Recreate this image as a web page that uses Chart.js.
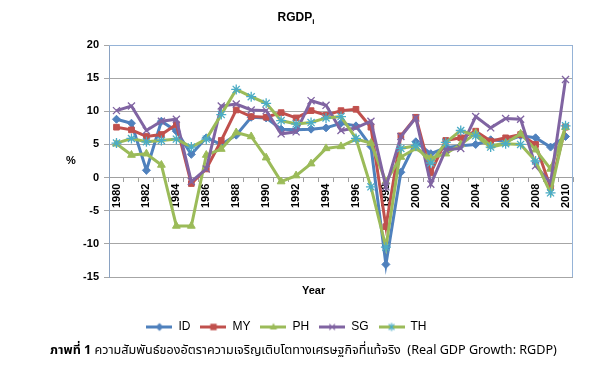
<!DOCTYPE html>
<html>
<head>
<meta charset="utf-8">
<script src="https://cdn.jsdelivr.net/npm/chart.js@4.4.0/dist/chart.umd.min.js"></script>
<style>
html,body{margin:0;padding:0;background:#fff;}
#wrap{position:relative;width:605px;height:381px;overflow:hidden;background:#fff;}
#c{position:absolute;left:0;top:0;}
.t{position:absolute;font-family:"Liberation Sans",Arial,sans-serif;font-weight:bold;color:#000;white-space:nowrap;line-height:1;}
#title{left:0;width:592px;text-align:center;top:11px;font-size:12px;}
#title sub{font-size:8px;vertical-align:-3px;}
#pct{left:66px;top:155px;font-size:11px;}
#year{left:302px;top:285px;font-size:11px;}
#cap{left:50px;top:345px;font-size:12.6px;font-weight:normal;font-family:"Noto Sans Thai","Loma","Garuda","Norasi","Noto Sans","DejaVu Sans",sans-serif;}
#cap b{font-weight:bold;}
</style>
</head>
<body>
<div id="wrap">
<canvas id="c" width="605" height="381"></canvas>
<div class="t" id="title">RGDP<sub>i</sub></div>
<div class="t" id="pct">%</div>
<div class="t" id="year">Year</div>
<div class="t" id="cap"><b>ภาพที่ 1</b> ความสัมพันธ์ของอัตราความเจริญเติบโตทางเศรษฐกิจที่แท้จริง&nbsp; (Real GDP Growth: RGDP)</div>
</div>
<script>
// ---- data ----
const years = [1980,1981,1982,1983,1984,1985,1986,1987,1988,1989,1990,1991,1992,1993,1994,1995,1996,1997,1998,1999,2000,2001,2002,2003,2004,2005,2006,2007,2008,2009,2010];
const seriesNames = ["ID","MY","PH","SG","TH"];
const ID = [8.8,8.2,1.1,8.5,7.0,3.5,6.0,5.0,6.4,9.1,9.0,7.3,7.2,7.3,7.5,8.2,7.8,4.7,-13.1,0.8,5.4,3.6,4.5,4.8,5.0,5.7,5.5,6.3,6.0,4.6,6.2];
const MY = [7.6,7.2,6.2,6.5,8.0,-0.9,1.3,5.6,10.2,9.2,9.1,9.8,9.0,10.1,9.4,10.1,10.3,7.6,-7.4,6.3,9.1,0.7,5.6,6.0,7.0,5.5,6.0,6.5,5.0,-1.5,7.6];
const PH = [5.1,3.4,3.6,1.9,-7.3,-7.3,3.4,4.3,6.8,6.2,3.0,-0.6,0.3,2.1,4.4,4.7,5.8,5.2,-0.6,3.1,4.4,2.9,3.6,5.0,6.7,4.8,5.2,6.6,4.2,1.3,7.6];
const SG = [10.1,10.8,7.1,8.5,8.8,-0.6,1.3,10.8,11.1,10.2,10.1,6.6,6.9,11.6,10.9,7.1,7.5,8.5,-1.4,6.2,9.0,-1.0,4.2,4.4,9.2,7.5,8.9,8.8,1.8,-0.8,14.8];
const TH = [5.2,5.9,5.4,5.6,5.8,4.6,5.8,9.5,13.3,12.2,11.2,8.6,8.1,8.3,9.0,9.2,5.9,-1.4,-10.5,4.4,4.8,2.2,5.3,7.1,6.3,4.6,5.1,5.0,2.5,-2.3,7.8];
const yTicks = [-15,-10,-5,0,5,10,15,20];

const FONT = '"Liberation Sans", Arial, sans-serif';
const lineColors = ['#4F81BD','#C0504D','#9BBB59','#8064A2','#9BBB59'];
const markColors = ['#4F81BD','#C0504D','#9BBB59','#8064A2','#4BACC6'];
const styles = ['rectRot','rect','triangle','crossRot','star'];
const radii = [4,4,4.5,5,5];
const values = [ID,MY,PH,SG,TH];

function drawMarker(g, style, x, y, r, col){
  g.fillStyle = col; g.strokeStyle = col; g.lineWidth = 1.2;
  g.beginPath();
  if(style==='rectRot'){g.moveTo(x,y-r);g.lineTo(x+r,y);g.lineTo(x,y+r);g.lineTo(x-r,y);g.closePath();g.fill();}
  else if(style==='rect'){g.rect(x-r*0.8,y-r*0.8,r*1.6,r*1.6);g.fill();}
  else if(style==='triangle'){g.moveTo(x,y-r);g.lineTo(x+r*0.9,y+r*0.65);g.lineTo(x-r*0.9,y+r*0.65);g.closePath();g.fill();}
  else if(style==='crossRot'){g.moveTo(x-r*0.7,y-r*0.7);g.lineTo(x+r*0.7,y+r*0.7);g.moveTo(x+r*0.7,y-r*0.7);g.lineTo(x-r*0.7,y+r*0.7);g.stroke();}
  else if(style==='star'){g.moveTo(x-r*0.7,y-r*0.7);g.lineTo(x+r*0.7,y+r*0.7);g.moveTo(x+r*0.7,y-r*0.7);g.lineTo(x-r*0.7,y+r*0.7);g.moveTo(x,y-r);g.lineTo(x,y+r);g.stroke();}
}
const icons = seriesNames.map((n,i)=>{
  const cv = document.createElement('canvas'); cv.width = 26; cv.height = 11;
  const g = cv.getContext('2d');
  g.strokeStyle = lineColors[i]; g.lineWidth = 3;
  g.beginPath(); g.moveTo(0,5.5); g.lineTo(26,5.5); g.stroke();
  drawMarker(g, styles[i], 13, 5.5, 4, markColors[i]);
  return cv;
});

const datasets = seriesNames.map((n,i)=>({
  label: n,
  data: values[i],
  borderColor: lineColors[i],
  backgroundColor: markColors[i],
  borderWidth: 3,
  pointStyle: styles[i],
  pointRadius: radii[i],
  pointBackgroundColor: markColors[i],
  pointBorderColor: markColors[i],
  pointBorderWidth: (i>=3)?1.3:1,
  tension: 0,
  fill: false,
  order: 5-i
}));

const frame = {
  id:'frame',
  beforeDatasetsDraw(chart){
    const a = chart.chartArea, g = chart.ctx;
    g.save(); g.strokeStyle = '#95b3d7'; g.lineWidth = 1;
    g.beginPath();
    g.moveTo(a.left, a.top+0.5); g.lineTo(a.right-0.5, a.top+0.5); g.lineTo(a.right-0.5, a.bottom);
    g.stroke(); g.restore();
  }
};

new Chart(document.getElementById('c'), {
  type:'line',
  data:{labels: years.map(String), datasets},
  options:{
    responsive:false, animation:false,
    layout:{padding:{top:45,right:32,bottom:38,left:0}},
    plugins:{
      legend:{position:'bottom', labels:{
        usePointStyle:true, pointStyleWidth:26, padding:10, color:'#000',
        font:{family:FONT, size:12},
        generateLabels(chart){
          return chart.data.datasets.map((ds,i)=>({text:ds.label, pointStyle:icons[i], fillStyle:'rgba(0,0,0,0)', strokeStyle:'rgba(0,0,0,0)', lineWidth:0, hidden:false, datasetIndex:i, fontColor:'#000'}));
        }
      }},
      tooltip:{enabled:false}
    },
    scales:{
      x:{type:'category', position:{y:0}, offset:true,
        grid:{drawOnChartArea:false, drawTicks:true, tickLength:4, offset:true, color:'#a0a0a0'},
        border:{color:'#a0a0a0'},
        ticks:{autoSkip:false, minRotation:90, maxRotation:90, padding:2, color:'#000', font:{family:FONT,size:11,weight:'bold'},
          callback(v,i){ return i%2===0 ? this.getLabelForValue(v) : ''; }}
      },
      x2:{type:'category', position:'bottom', grid:{display:false}, border:{display:false}, ticks:{display:false},
        afterFit(s){ s.height = 34; }},
      y:{min:-15, max:20,
        afterBuildTicks(s){ s.ticks = yTicks.map(v=>({value:v})); },
        ticks:{padding:5, color:'#000', font:{family:FONT,size:11,weight:'bold'}},
        grid:{color:'#a6a6a6', tickLength:5, drawTicks:true},
        border:{color:'#8aa2c2'},
        afterFit(s){ s.width = 109; }
      }
    }
  },
  plugins:[frame]
});
</script>
</body>
</html>
